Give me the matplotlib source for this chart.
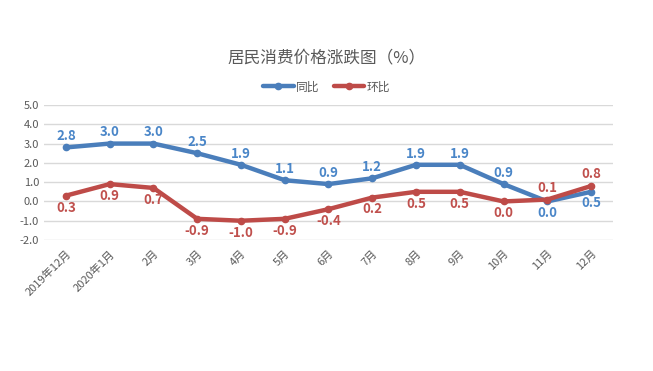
import matplotlib
matplotlib.use('Agg')
from matplotlib import pyplot as plt
from matplotlib.ticker import FuncFormatter

plt.rcParams['font.family'] = ['Noto Sans CJK SC', 'DejaVu Sans']

# data
months = ['2019年12月', '2020年1月', '2月', '3月', '4月', '5月', '6月',
          '7月', '8月', '9月', '10月', '11月', '12月']
yoy = [2.8, 3.0, 3.0, 2.5, 1.9, 1.1, 0.9, 1.2, 1.9, 1.9, 0.9, 0.0, 0.5]
mom = [0.3, 0.9, 0.7, -0.9, -1.0, -0.9, -0.4, 0.2, 0.5, 0.5, 0.0, 0.1, 0.8]

# label placement: 1 = above, -1 = below
yoy_pos = [1, 1, 1, 1, 1, 1, 1, 1, 1, 1, 1, -1, -1]
mom_pos = [-1, -1, -1, -1, -1, -1, -1, -1, -1, -1, -1, 1, 1]

blue = '#4A7EBB'
red = '#BE4B48'
blue_txt = '#4A86C8'
red_txt = '#C0504D'

fig = plt.figure(figsize=(6.53, 3.71), dpi=100)
ax = fig.add_axes([0.0674, 0.353, 0.8713, 0.364])

x = [i + 0.5 for i in range(len(months))]
ax.plot(x, yoy, color=blue, lw=3.2, marker='o', ms=4.5, label='同比',
        solid_capstyle='round', zorder=3)
ax.plot(x, mom, color=red, lw=3.2, marker='o', ms=4.5, label='环比',
        solid_capstyle='round', zorder=3)

for xi, v, p in zip(x, yoy, yoy_pos):
    ax.annotate(f'{v:.1f}', (xi, v), xytext=(0, 3 * p), textcoords='offset points',
                ha='center', va='bottom' if p > 0 else 'top',
                color=blue_txt, fontsize=9.5, fontweight='bold')
for xi, v, p in zip(x, mom, mom_pos):
    ax.annotate(f'{v:.1f}', (xi, v), xytext=(0, 3.5 * p), textcoords='offset points',
                ha='center', va='bottom' if p > 0 else 'top',
                color=red_txt, fontsize=9.5, fontweight='bold')

ax.set_xlim(0, len(months))
ax.set_ylim(-2, 5)
ax.set_yticks(range(-2, 6))
ax.yaxis.set_major_formatter(FuncFormatter(lambda v, p: f'{v:.1f}'))
ax.set_xticks(x)
ax.set_xticklabels(months, rotation=45, ha='right', rotation_mode='anchor')
ax.tick_params(length=0, colors='#595959', labelsize=8)
ax.tick_params(axis='x', pad=6)
ax.grid(axis='y', color='#D9D9D9', lw=1)
ax.set_axisbelow(True)
for s in ax.spines.values():
    s.set_visible(False)

fig.text(0.5, 0.843, '居民消费价格涨跌图（%）', ha='center', va='center',
         fontsize=12, color='#595959')
fig.legend(loc='center', bbox_to_anchor=(0.5, 0.766), ncol=2, frameon=False,
           fontsize=8.5, handlelength=2.6, columnspacing=1.2, handletextpad=0.2,
           labelcolor='#595959')

fig.savefig('out.png', dpi=100)
